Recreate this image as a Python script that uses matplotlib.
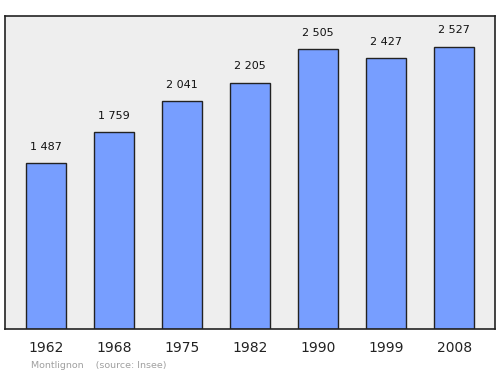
import matplotlib
matplotlib.use("Agg")
import matplotlib.pyplot as plt

years = ["1962", "1968", "1975", "1982", "1990", "1999", "2008"]
population = [1487, 1759, 2041, 2205, 2505, 2427, 2527]
value_labels = ["1 487", "1 759", "2 041", "2 205", "2 505", "2 427", "2 527"]


def main():
    fig = plt.figure(figsize=(5.0, 3.74), dpi=100)
    ax = fig.add_axes([0.01, 1 - 329 / 374, 0.98, 313 / 374])
    ax.set_facecolor("#eeeeee")

    x = range(len(years))
    ax.bar(x, population, width=0.59, color="#779eff", edgecolor="#222222",
           linewidth=1.0, zorder=2)
    for i, (v, lab) in enumerate(zip(population, value_labels)):
        ax.text(i, v + 100, lab, ha="center", va="bottom", fontsize=8,
                color="#111111")

    ax.set_xlim(-0.6, 6.6)
    ax.set_ylim(0, 2800)
    ax.set_yticks([])
    ax.set_xticks(list(x))
    ax.set_xticklabels(years, fontsize=10, color="#222222")
    ax.tick_params(axis="x", length=0, pad=9)
    for s in ax.spines.values():
        s.set_linewidth(1.2)
        s.set_color("#222222")

    fig.text(0.062, 1 - 366 / 374, "Montlignon    (source: Insee)",
             fontsize=6.8, color="#a0a0a0", va="center")

    fig.savefig("out.png", dpi=100)


if __name__ == "__main__":
    main()
